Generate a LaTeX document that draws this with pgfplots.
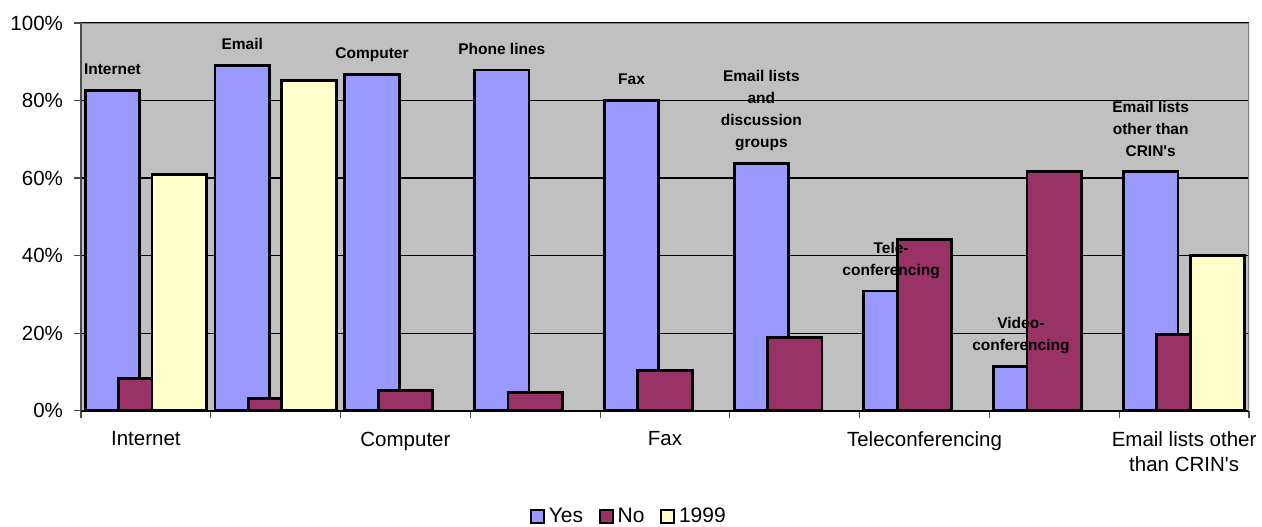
\documentclass[border=0pt]{standalone}
\usepackage{pgfplots}
\pgfplotsset{compat=1.18}
\usepackage{fontspec}
\setmainfont{Liberation Sans}[Ligatures=TeXOff]
\definecolor{cyes}{HTML}{9999FF}
\definecolor{cno}{HTML}{993366}
\definecolor{cnn}{HTML}{FFFFCC}
\definecolor{plotbg}{HTML}{C0C0C0}
\begin{document}
\begin{tikzpicture}
\useasboundingbox (-40.5pt,-57.65pt) rectangle (590.5pt,205.35pt);
\begin{axis}[
  at={(0pt,0pt)}, anchor=south west,
  scale only axis, width=584pt, height=193.85pt,
  xmin=-0.5, xmax=8.5, ymin=0, ymax=100,
  ybar,
  axis background/.style={fill=plotbg},
  axis x line*=bottom, axis y line*=left,
  x axis line style={black, line width=1pt},
  y axis line style={black!70, line width=1pt},
  ytick={0,20,...,100},
  yticklabel={\pgfmathprintnumber{\tick}\%},
  /pgf/number format/assume math mode=true,
  ymajorgrids, grid style={black, line width=0.6pt},
  xtick={-0.5,0.5,...,8.5}, xticklabels={},
  extra x ticks={0,2,4,6,8},
  extra x tick labels={Internet,Computer,Fax,Teleconferencing,{Email lists other\\than CRIN's}},
  extra x tick style={major tick length=0pt, tick style={draw=none}},
  tick align=outside, major tick length=3.5pt,
  tick style={black!70, line width=0.6pt},
  ticklabel style={font=\fontsize{10.25}{12}\selectfont},
  xticklabel style={align=center, yshift=-7pt, font=\fontsize{10.25}{12.4}\selectfont},
  yticklabel style={xshift=-2pt},
  legend style={at={(0.470,-0.273)}, anchor=center, draw=none, fill=none,
    legend columns=3, font=\fontsize{10.5}{12}\selectfont,
    /tikz/every even column/.append style={column sep=6pt},
    /tikz/every odd column/.append style={inner xsep=0pt},
    legend cell align=left},
  legend image code/.code={\draw[#1, line width=0.9pt] (0pt,-3.2pt) rectangle (6.4pt,3.2pt);},
  bar width=0.42,
]
\addplot[bar shift=-0.2575, fill=cyes, draw=black, line width=1.4pt]
  coordinates {(0,82.6)(1,89.0)(2,86.7)(3,87.9)(4,80.1)(5,63.8)(6,30.9)(7,11.4)(8,61.6)};
\addlegendentry{Yes}
\addplot[bar shift=0, fill=cno, draw=black, line width=1.4pt]
  coordinates {(0,8.3)(1,3.2)(2,5.3)(3,4.6)(4,10.3)(5,18.8)(6,44.1)(7,61.6)(8,19.7)};
\addlegendentry{No}
\addplot[bar shift=0.2575, fill=cnn, draw=black, line width=1.4pt]
  coordinates {(0,61.0)(1,85.1)(8,40.1)};
\addlegendentry{1999}
\addplot[bar shift=-0.2575, draw=none, fill=none, forget plot,
  point meta=explicit symbolic, nodes near coords,
  every node near coord/.append style={anchor=south, inner sep=0pt, yshift=5.7pt,
    align=center, text depth=2pt, text=black,
    font=\fontsize{7.75}{11}\selectfont\bfseries}]
  coordinates {
    (0,82.6) [Internet]
    (1,89.0) [Email]
    (2,86.7) [Computer]
    (3,87.9) [Phone lines]
    (4,80.1) [Fax]
    (5,63.8) [{Email lists\\and\\discussion\\groups}]
    (6,30.9) [{Tele-\\conferencing}]
    (7,11.4) [{Video-\\conferencing}]
    (8,61.6) [{Email lists\\other than\\CRIN's}]
  };
\draw[black!50, line width=1pt] (rel axis cs:0,1) -- (rel axis cs:1,1) -- (rel axis cs:1,0);
\end{axis}
\end{tikzpicture}
\end{document}
